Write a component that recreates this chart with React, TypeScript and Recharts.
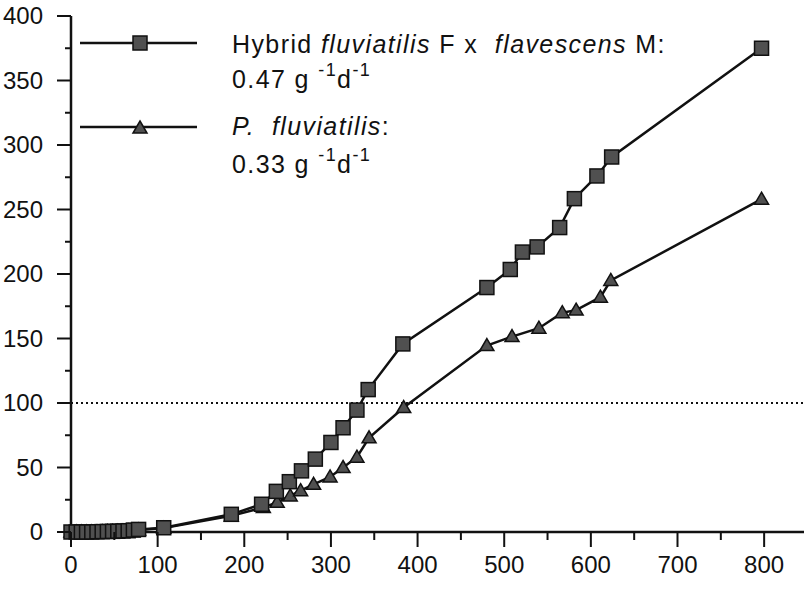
import React from "react";
import { LineChart, Line, XAxis, YAxis, ReferenceLine } from "recharts";

// days since start (x) and weight (y)
const hybridDays = [0, 6, 12, 18, 24, 30, 36, 42, 48, 54, 60, 66, 72, 78, 107, 185, 220, 237, 252, 266, 282, 300, 314, 330, 343, 383, 480, 507, 521, 538, 564, 581, 607, 624, 797];
const hybridWeight = [0, 0, 0, 0, 0, 0.2, 0.3, 0.4, 0.5, 0.6, 0.8, 1.0, 1.5, 2, 3.3, 13.7, 21.5, 31.5, 39, 47.4, 56.5, 69.4, 80.8, 94.5, 110.4, 145.8, 189.5, 203.5, 217, 221, 236, 258.4, 276, 290.7, 375];

const fluvDays = [0, 6, 12, 18, 24, 30, 36, 42, 48, 54, 60, 66, 72, 78, 107, 185, 222, 238, 253, 265, 280, 299, 314, 330, 344, 384, 480, 509, 540, 567, 583, 611, 623, 797];
const fluvWeight = [0, 0, 0, 0, 0, 0.1, 0.2, 0.3, 0.4, 0.5, 0.6, 0.8, 1.2, 1.5, 3, 12.5, 19, 23, 28, 32, 37, 42.7, 50, 58, 73, 96.5, 144.5, 151.5, 158, 170, 172, 182, 195, 258];

const xTicks = [0, 50, 100, 150, 200, 250, 300, 350, 400, 450, 500, 550, 600, 650, 700, 750, 800];
const yTicks = [0, 25, 50, 75, 100, 125, 150, 175, 200, 225, 250, 275, 300, 325, 350, 375, 400];

const hybridData = hybridDays.map((x, i) => ({ x, y: hybridWeight[i] }));
const fluvData = fluvDays.map((x, i) => ({ x, y: fluvWeight[i] }));

const INK = "#111";
const MARK = "#505050";
const FONT = '"Liberation Sans", Arial, sans-serif';

const Square = ({ cx, cy }: { cx: number; cy: number }) => (
  <rect x={cx - 7} y={cy - 7} width={14} height={14} fill={MARK} stroke={INK} strokeWidth={1.5} />
);

const Triangle = ({ cx, cy }: { cx: number; cy: number }) => (
  <polygon
    points={`${cx},${cy - 7} ${cx + 7},${cy + 5} ${cx - 7},${cy + 5}`}
    fill={MARK}
    stroke={INK}
    strokeWidth={1.5}
  />
);

const XTick = (props: any) => {
  const { x, y, payload } = props;
  const v = payload.value;
  const major = v % 100 === 0;
  return (
    <g>
      <line x1={x} y1={y} x2={x} y2={y + (major ? 15 : 8)} stroke={INK} strokeWidth={2} />
      {major && (
        <text x={x} y={y + 41} textAnchor="middle" fontSize={24} fill={INK} fontFamily={FONT}>
          {v}
        </text>
      )}
    </g>
  );
};

const YTick = (props: any) => {
  const { x, y, payload } = props;
  const v = payload.value;
  const major = v % 50 === 0;
  return (
    <g>
      <line x1={x - (major ? 14 : 6)} y1={y} x2={x} y2={y} stroke={INK} strokeWidth={2} />
      {major && (
        <text x={x - 28} y={y + 8} textAnchor="end" fontSize={24} fill={INK} fontFamily={FONT}>
          {v}
        </text>
      )}
    </g>
  );
};

const Rate = ({ y, value }: { y: number; value: string }) => (
  <text x={232} y={y} xmlSpace="preserve">
    {value} g <tspan fontSize={18} dy={-12}>-1</tspan>
    <tspan dy={12}>d</tspan>
    <tspan fontSize={18} dy={-12}>-1</tspan>
  </text>
);

const LegendOverlay = () => (
  <svg
    width={808}
    height={200}
    style={{ position: "absolute", left: 0, top: 0, pointerEvents: "none" }}
  >
    <line x1={80} y1={43} x2={197} y2={43} stroke={INK} strokeWidth={2.5} />
    <Square cx={140} cy={43} />
    <line x1={80} y1={127} x2={197} y2={127} stroke={INK} strokeWidth={2.5} />
    <Triangle cx={140} cy={128} />
    <g fontFamily={FONT} fontSize={25} fill={INK} letterSpacing={1.4}>
      <text x={232} y={53} xmlSpace="preserve">
        Hybrid <tspan fontStyle="italic">fluviatilis</tspan> F x  <tspan fontStyle="italic">flavescens</tspan> M:
      </text>
      <Rate y={88} value="0.47" />
      <text x={232} y={135} xmlSpace="preserve">
        <tspan fontStyle="italic">P.  fluviatilis</tspan>:
      </text>
      <Rate y={173} value="0.33" />
    </g>
  </svg>
);

export default function App() {
  return (
    <div
      style={{
        position: "absolute",
        left: 0,
        top: 0,
        width: 808,
        height: 591,
        background: "#fff",
        fontFamily: FONT,
      }}
    >
      <LineChart width={808} height={591} margin={{ top: 16, right: 4, bottom: 0, left: 0 }}>
        <XAxis
          type="number"
          dataKey="x"
          domain={[0, 846]}
          ticks={xTicks}
          interval={0}
          height={59}
          tickSize={0}
          tickMargin={0}
          tickLine={false}
          tick={<XTick />}
          axisLine={{ stroke: INK, strokeWidth: 2.5 }}
          allowDuplicatedCategory={false}
        />
        <YAxis
          type="number"
          dataKey="y"
          domain={[0, 400]}
          ticks={yTicks}
          interval={0}
          width={71}
          tickSize={0}
          tickMargin={0}
          tickLine={false}
          tick={<YTick />}
          axisLine={{ stroke: INK, strokeWidth: 2.5 }}
        />
        <ReferenceLine y={100} stroke={INK} strokeWidth={2} strokeDasharray="2 3" />
        <Line
          data={fluvData}
          dataKey="y"
          stroke={INK}
          strokeWidth={2.5}
          isAnimationActive={false}
          dot={(p: any) => <Triangle key={`t${p.index}`} cx={p.cx} cy={p.cy} />}
        />
        <Line
          data={hybridData}
          dataKey="y"
          stroke={INK}
          strokeWidth={2.5}
          isAnimationActive={false}
          dot={(p: any) => <Square key={`s${p.index}`} cx={p.cx} cy={p.cy} />}
        />
      </LineChart>
      <LegendOverlay />
    </div>
  );
}
